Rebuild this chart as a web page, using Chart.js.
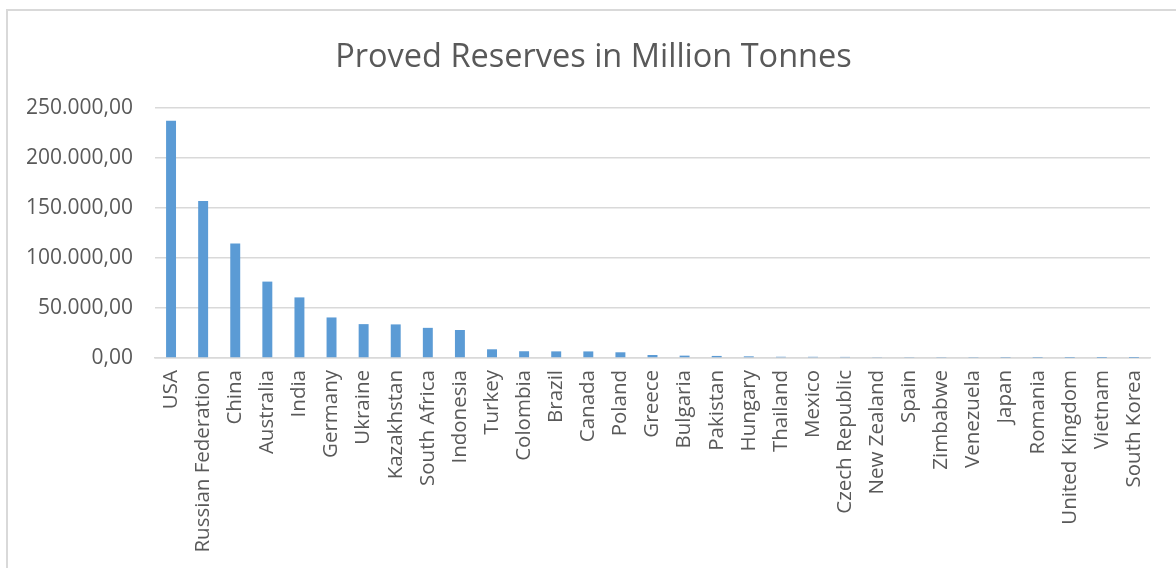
<!DOCTYPE html>
<html>
<head>
<meta charset="utf-8">
<script src="https://cdn.jsdelivr.net/npm/chart.js@4.4.1/dist/chart.umd.min.js"></script>
<style>
  html, body { margin: 0; padding: 0; background: #fff; }
  #frame { position: absolute; left: 6px; top: 9px; width: 1200px; height: 600px; border: 2px solid #D9D9D9; box-sizing: border-box; }
  #wrap { position: absolute; left: 0; top: 0; width: 1176px; height: 568px; }
</style>
</head>
<body>
<div id="frame"></div>
<div id="wrap"><canvas id="c" width="1176" height="568"></canvas></div>
<script>
const countries = ["USA","Russian Federation","China","Australia","India","Germany","Ukraine","Kazakhstan","South Africa","Indonesia","Turkey","Colombia","Brazil","Canada","Poland","Greece","Bulgaria","Pakistan","Hungary","Thailand","Mexico","Czech Republic","New Zealand","Spain","Zimbabwe","Venezuela","Japan","Romania","United Kingdom","Vietnam","South Korea"];
const reserves = [237295,157010,114500,76400,60600,40548,33873,33600,30156,28017,8702,6746,6630,6582,5709,3020,2366,2070,1660,1239,1211,1100,571,530,502,479,350,291,228,150,126];
const yTicks = [0,50000,100000,150000,200000,250000];
const titleText = "Proved Reserves in Million Tonnes";

const fmt = v => v.toLocaleString('de-DE', {minimumFractionDigits: 2, maximumFractionDigits: 2});
const FONT = "'Open Sans', sans-serif";
const TXT = "#595959";

// centre the title on the chart frame rather than on the padded area
const titleShift = {
  id: 'titleShift',
  afterLayout(chart) {
    if (chart.titleBlock) { chart.titleBlock.left = 11; chart.titleBlock.right = 1176; }
  }
};

new Chart(document.getElementById('c'), {
  type: 'bar',
  data: {
    labels: countries,
    datasets: [{
      data: reserves,
      backgroundColor: '#5B9BD5',
      borderWidth: 0,
      categoryPercentage: 1,
      barPercentage: 0.31
    }]
  },
  plugins: [titleShift],
  options: {
    responsive: false,
    animation: false,
    layout: { padding: { left: 0, right: 26, top: 0, bottom: 0 } },
    plugins: {
      legend: { display: false },
      tooltip: { enabled: false },
      title: {
        display: true,
        text: titleText,
        color: TXT,
        font: { family: FONT, size: 32.5, weight: 'normal' },
        padding: { top: 38, bottom: 31 }
      }
    },
    scales: {
      y: {
        min: 0, max: 250000,
        afterBuildTicks: s => { s.ticks = yTicks.map(v => ({ value: v })); },
        afterFit: s => { s.width = 155; },
        ticks: {
          color: TXT,
          font: { family: FONT, size: 21 },
          padding: 22,
          callback: v => fmt(v)
        },
        grid: { color: '#D9D9D9', lineWidth: 1.5, drawTicks: false },
        border: { display: false }
      },
      x: {
        afterFit: s => { s.height = 210; },
        ticks: {
          color: TXT,
          font: { family: FONT, size: 20.5 },
          minRotation: 90, maxRotation: 90,
          autoSkip: false,
          padding: 12
        },
        grid: { display: false, drawTicks: false },
        border: { display: true, color: '#D9D9D9', width: 1.5 }
      }
    }
  }
});
</script>
</body>
</html>
